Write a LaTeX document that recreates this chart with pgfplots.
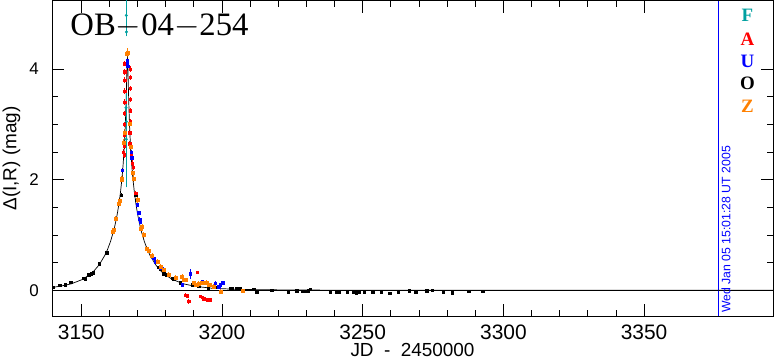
\documentclass[border=0pt]{standalone}
\usepackage{fontspec}
\usepackage{pgfplots}
\usepackage{pgfplotstable}
\pgfplotsset{compat=1.18}
\newfontfamily\sansf{Liberation Sans}
\newfontfamily\serf{Liberation Serif}
\definecolor{cF}{RGB}{0,160,160}
\definecolor{cA}{RGB}{255,0,0}
\definecolor{cU}{RGB}{0,0,255}
\definecolor{cO}{RGB}{0,0,0}
\definecolor{cZ}{RGB}{255,128,0}

\pgfplotstableread{
t d
3139.6 0.052
3142.4 0.072
3146.4 0.116
3150.4 0.195
3153.4 0.297
3154.4 0.343
3156.4 0.463
3158.4 0.634
3159.4 0.746
3160.4 0.884
3161.4 1.056
3161.9 1.159
3162.4 1.276
3162.9 1.411
3163.4 1.569
3163.9 1.758
3164.4 1.991
3164.65 2.131
3164.9 2.292
3165.2 2.523
3165.4 2.709
3165.5 2.815
3165.6 2.931
3165.7 3.060
3165.8 3.204
3165.9 3.364
3166.05 3.642
3166.1 3.744
3166.2 3.949
3166.25 4.045
3166.3 4.125
3166.35 4.180
3166.4 4.200
3166.45 4.180
3166.5 4.125
3166.55 4.045
3166.6 3.949
3166.7 3.744
3166.75 3.642
3166.9 3.364
3167.0 3.204
3167.1 3.060
3167.2 2.931
3167.3 2.815
3167.4 2.709
3167.6 2.523
3167.9 2.292
3168.15 2.131
3168.4 1.991
3168.9 1.758
3169.4 1.569
3169.9 1.411
3170.4 1.276
3170.9 1.159
3171.4 1.056
3172.4 0.884
3173.4 0.746
3174.4 0.634
3176.4 0.463
3178.4 0.343
3179.4 0.297
3182.4 0.195
3186.4 0.116
3190.4 0.072
3196.4 0.037
3206.4 0.015
3226.4 0.004
3266.4 0.0005
3395.8 0
}\model

\pgfplotstableread{
t d e
3140.1 0.054 0.012
3142.4 0.09 0.012
3144.2 0.10 0.012
3146.2 0.145 0.012
3150.9 0.22 0.012
3151.3 0.21 0.012
3152.7 0.28 0.012
3153.5 0.30 0.012
3154.3 0.32 0.015
3156.4 0.48 0.015
3159.0 0.68 0.02
3164.2 1.72 0.03
3169.3 1.72 0.03
3169.6 1.63 0.03
3177.5 0.42 0.02
3178.1 0.38 0.02
3179.3 0.30 0.02
3180.3 0.28 0.02
3182.3 0.22 0.02
3182.8 0.21 0.02
3185.2 0.14 0.02
3189.4 0.10 0.02
3191.7 0.08 0.02
3195.2 0.05 0.02
3197.6 0.06 0.02
3203.0 0.025 0.015
3203.5 0.035 0.015
3205.3 0.03 0.015
3205.9 0.02 0.015
3206.5 0.035 0.015
3211.0 0.018 0.015
3211.2 0.02 0.015
3212.4 -0.037 0.015
3217.7 0.005 0.015
3223.6 -0.037 0.015
3226.6 -0.007 0.015
3228.4 -0.013 0.015
3229.5 -0.013 0.015
3230.7 -0.007 0.015
3231.3 0.018 0.015
3238.4 -0.037 0.015
3240.8 -0.025 0.015
3241.6 -0.037 0.015
3244.5 -0.037 0.015
3246.7 -0.025 0.015
3247.6 -0.043 0.015
3248.1 -0.037 0.015
3248.7 -0.025 0.015
3250.6 -0.03 0.015
3253.5 -0.025 0.015
3256.5 -0.037 0.015
3259.6 -0.055 0.015
3262.6 -0.025 0.015
3266.5 -0.007 0.015
3268.9 -0.025 0.015
3272.7 -0.007 0.015
3274.8 0.005 0.015
3278.6 -0.037 0.015
3281.7 -0.043 0.015
3287.6 -0.013 0.015
3292.7 -0.02 0.015
}\dataO

\pgfplotstableread{
t d e
3164.8 2.50 0.05
3165.2 2.45 0.05
3165.25 2.60 0.05
3165.3 2.80 0.05
3165.3 3.00 0.05
3165.35 3.20 0.05
3165.4 3.40 0.05
3165.4 3.60 0.05
3165.45 3.80 0.05
3165.5 3.95 0.05
3165.5 4.10 0.05
3166.3 4.15 0.05
3166.4 4.05 0.05
3167.2 2.65 0.05
3167.25 2.85 0.05
3167.3 3.05 0.05
3167.3 3.25 0.05
3167.35 3.45 0.05
3167.4 3.65 0.05
3167.4 3.85 0.05
3167.45 4.00 0.05
3167.7 2.45 0.05
3168.0 2.30 0.05
3168.4 2.23 0.05
3169.3 1.75 0.05
3187.0 -0.085 0.03
3187.6 -0.10 0.03
3188.2 -0.20 0.04
3191.1 0.33 0.02
3192.3 -0.11 0.03
3193.0 -0.13 0.03
3193.5 -0.15 0.03
3194.0 -0.16 0.03
3194.7 -0.18 0.03
3195.3 -0.17 0.03
3195.9 -0.17 0.03
}\dataA

\pgfplotstableread{
t d e
3164.5 2.17 0.04
3166.3 4.15 0.05
3166.35 4.10 0.05
3166.5 4.05 0.05
3167.8 2.50 0.04
3167.9 2.40 0.04
3169.9 1.55 0.04
3170.4 1.40 0.04
3170.7 1.28 0.04
3171.0 1.23 0.04
3175.7 0.58 0.03
3176.4 0.52 0.03
3178.1 0.40 0.03
3178.7 0.40 0.03
3185.8 0.10 0.03
3188.8 0.30 0.09
3192.9 0.16 0.03
3193.5 0.14 0.03
3197.6 0.13 0.03
3198.8 0.065 0.03
3199.4 0.10 0.03
3200.0 0.13 0.03
3200.2 0.14 0.03
}\dataU

\pgfplotstableread{
t d e
3161.2 1.06 0.05
3161.6 1.09 0.05
3162.2 1.30 0.05
3163.3 1.57 0.05
3163.7 1.62 0.05
3164.3 2.00 0.06
3164.5 2.02 0.06
3165.1 2.66 0.08
3165.5 2.84 0.08
3166.3 4.28 0.08
3166.4 4.30 0.08
3167.1 3.02 0.08
3167.5 2.60 0.08
3168.1 2.12 0.06
3168.7 2.02 0.06
3170.1 1.63 0.05
3171.0 1.12 0.05
3171.6 1.15 0.05
3172.2 1.00 0.05
3173.2 0.76 0.04
3174.0 0.72 0.04
3175.2 0.63 0.04
3177.0 0.52 0.04
3178.1 0.43 0.04
3179.3 0.37 0.04
3181.1 0.29 0.04
3183.4 0.23 0.04
3185.8 0.25 0.04
3186.4 0.19 0.04
3187.0 0.19 0.04
3189.9 0.13 0.04
3190.5 0.10 0.04
3191.1 0.10 0.04
3191.6 0.12 0.04
3192.8 0.13 0.04
3194.1 0.13 0.04
3194.5 0.14 0.04
3195.3 0.10 0.04
3195.7 0.10 0.04
3197.0 0.07 0.04
3199.4 -0.02 0.04
3207.5 -0.01 0.03
}\dataZ

\pgfplotstableread{
t d e
3166.0 4.97 0.27
3166.05 4.67 0.04
3165.9 3.30 0.08
3166.05 3.05 0.08
3166.0 2.73 0.83
}\dataF

\begin{document}
\begin{tikzpicture}
\begin{axis}[
  at={(0,0)}, anchor=south west,
  scale only axis, width=721bp, height=315bp,
  xmin=3139.6, xmax=3395.8, ymin=-0.465, ymax=5.23,
  xtick={3150,3200,3250,3300,3350}, minor x tick num=4,
  ytick={0,2,4}, minor y tick num=3,
  tick align=inside, major tick length=12bp, minor tick length=6bp,
  tick style={black, line width=0.8bp},
  axis line style={line width=1bp},
  scaled ticks=false,
  /pgf/number format/1000 sep={},
  /pgf/number format/assume math mode=true,
  xticklabel style={font=\sansf\fontsize{21}{21}\selectfont, inner sep=0pt, yshift=-9bp},
  yticklabel style={font=\sansf\fontsize{17}{17}\selectfont, inner sep=0pt, xshift=-13bp},
  xlabel={JD\hspace{0.55em}-\hspace{0.55em}2450000},
  ylabel={Δ(I,R) (mag)},
  every axis x label/.style={at={(axis description cs:0.5,-0.108)}, anchor=center, font=\sansf\fontsize{19}{19}\selectfont},
  every axis y label/.style={at={(axis description cs:-0.0562,0.5)}, rotate=90, anchor=center, font=\sansf\fontsize{19}{19}\selectfont},
  error bars/y dir=both, error bars/y explicit,
  error bars/error mark=none,
  error bars/error bar style={line width=0.8bp},
]
\addplot[black, line width=0.7bp, forget plot] coordinates {(3139.6,0) (3395.8,0)};
\addplot[cU, line width=0.8bp, forget plot] coordinates {(3376.5,-0.465) (3376.5,5.23)};

\addplot[only marks, cO, mark=square*, mark size=1.2bp] table[x=t, y=d, y error=e] {\dataO};
\addplot[only marks, cA, mark=square*, mark size=1.2bp] table[x=t, y=d, y error=e] {\dataA};
\addplot[only marks, cU, mark=square*, mark size=1.2bp] table[x=t, y=d, y error=e] {\dataU};
\addplot[only marks, cZ, mark=square*, mark size=1.5bp] table[x=t, y=d, y error=e] {\dataZ};
\addplot[black, line width=0.7bp, no marks] table[x=t, y=d] {\model};
\addplot[only marks, cF, mark=*, mark size=1.3bp, error bars/error mark=-, error bars/error mark options={mark size=2.2bp, line width=0.7bp}] table[x=t, y=d, y error=e] {\dataF};

\node[inner sep=0pt] at (axis cs:3177.8,4.78) {\resizebox{178bp}{!}{\serf OB$-$04$-$254}};

\node[text=cF, font=\serf\bfseries\fontsize{19}{19}\selectfont] at (axis cs:3386.7,4.98) {F};
\node[text=cA, font=\serf\bfseries\fontsize{19}{19}\selectfont] at (axis cs:3386.7,4.53) {A};
\node[text=cU, font=\serf\bfseries\fontsize{19}{19}\selectfont] at (axis cs:3386.7,4.13) {U};
\node[text=cO, font=\serf\bfseries\fontsize{19}{19}\selectfont] at (axis cs:3386.7,3.74) {O};
\node[text=cZ, font=\serf\bfseries\fontsize{19}{19}\selectfont] at (axis cs:3386.7,3.33) {Z};

\node[rotate=90, anchor=west, inner sep=0pt, text=cU, font=\sansf\fontsize{12.3}{12.3}\selectfont] at (axis cs:3379.1,-0.41) {Wed Jan 05 15:01:28 UT 2005};
\end{axis}
\pgfresetboundingbox
\path[use as bounding box] (-52bp,-46bp) rectangle (723bp,316bp);
\end{tikzpicture}
\end{document}
